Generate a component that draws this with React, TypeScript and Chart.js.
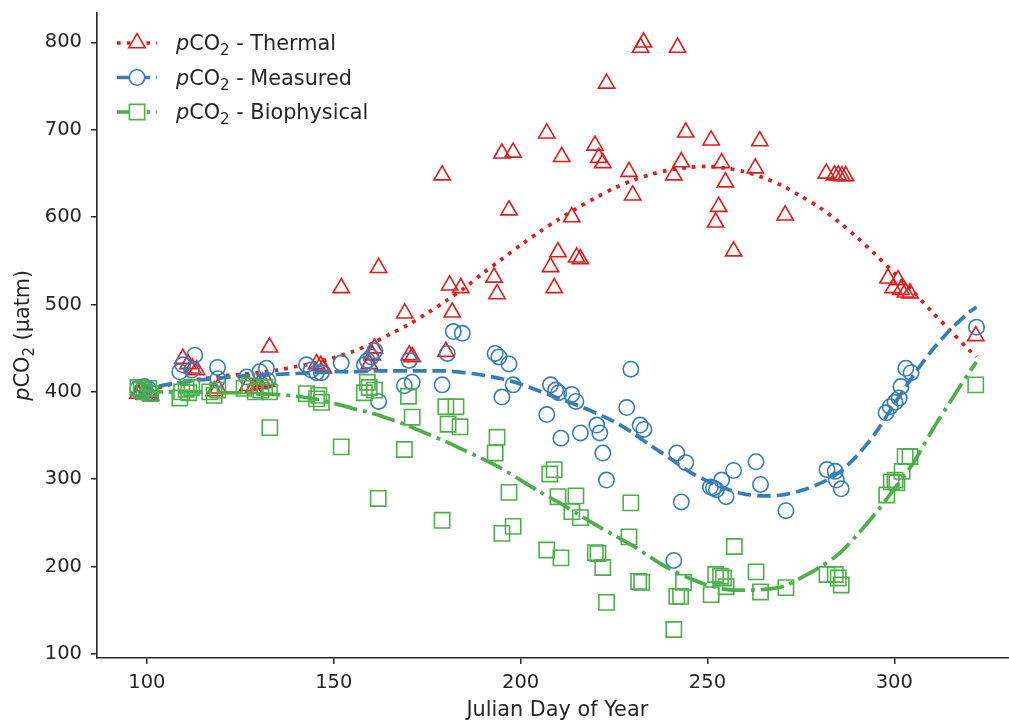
import React, { useEffect, useRef } from 'react';
import { Chart, registerables } from 'chart.js';

Chart.register(...registerables);

const FONT = "'DejaVu Sans', sans-serif";
const INK = '#262626';
const RED = '#e41a1c';
const BLUE = '#377eb8';
const GREEN = '#4daf4a';

const xTicks = [100, 150, 200, 250, 300];
const yTicks = [100, 200, 300, 400, 500, 600, 700, 800];

// Thermal pCO2 observations
const thermalDays = [
  97.6, 98.5, 99.3, 100.5, 101, 109.6, 111, 112.2, 113.3, 118, 119, 127, 128.5, 130, 131, 132, 132.8,
  145.4, 146.5, 147.2, 152, 159.5, 160.3, 160.9, 162, 169, 170.2, 171, 179, 180, 181, 181.7, 184,
  192.9, 193.7, 195, 196.9, 198, 207, 208, 209, 210, 211, 213.7, 215, 216, 219.9, 220.9, 222, 223,
  229, 230, 232.1, 232.9, 241, 242, 243, 244.2, 251, 252.2, 253, 253.8, 254.8, 257, 262.8, 264,
  270.8, 281.8, 284, 285, 286, 287, 298.3, 299.7, 301, 301.8, 303, 304.2, 321.8,
];
const thermalValues = [
  398, 401, 397, 399, 396, 438, 432, 427, 425, 401, 404, 407, 404, 409, 411, 412, 451,
  432, 430, 427, 519, 432, 442, 450, 542, 490, 442, 440, 648, 446, 522, 491, 519,
  531, 512, 673, 608, 674, 696, 543, 519, 560, 669, 600, 554, 552, 682, 668, 662, 753,
  652, 625, 794, 800, 648, 794, 663, 697, 688, 594, 612, 662, 640, 561, 656, 687,
  602, 650, 648, 648, 647, 647, 530, 519, 528, 517, 514, 513, 464,
];

// Measured pCO2 observations
const measuredDays = [
  97.6, 98.5, 99.3, 100.5, 101, 108.8, 109.6, 112, 112.8, 118.9, 119, 126.7, 130.2, 132, 132.3,
  142.7, 144, 145.4, 146.7, 152, 158.2, 159, 160, 161, 162, 168.9, 170.2, 171, 179, 180.4, 182, 184.4,
  193.2, 194.2, 195, 196.9, 198, 207, 208, 209.4, 210.2, 210.8, 213.7, 214.8, 216, 220.4, 221.2, 222, 223,
  228.4, 229.5, 232, 233, 241, 241.8, 243, 244.2, 250.8, 251.6, 252.4, 253.8, 255, 257, 263, 264.2, 271,
  282, 284.2, 284.5, 285.8, 297.8, 298.9, 300.2, 301.3, 301.8, 303.1, 304.5, 322,
];
const measuredValues = [
  404, 401, 406, 403, 399, 423, 431, 425, 442, 428, 415, 417, 423, 427, 413,
  431, 425, 422, 422, 433, 431, 436, 440, 447, 389, 407, 436, 411, 408, 444, 469, 467,
  444, 440, 394, 432, 408, 374, 408, 402, 399, 347, 397, 389, 353, 362, 353, 330, 299,
  382, 426, 362, 357, 207, 330, 274, 319, 291, 290, 288, 299, 280, 310, 320, 294, 264,
  311, 309, 299, 289, 376, 383, 388, 393, 406, 427, 422, 474,
];

// Biophysical pCO2 observations
const biophysicalDays = [
  97.6, 98.5, 99.3, 100.5, 101, 108.8, 109.3, 110.5, 111.2, 112, 116.8, 118, 119, 126, 127.5, 129,
  130.5, 131.5, 132.8, 132.9, 142.7, 145.4, 146, 146.7, 152, 158.2, 159, 159.5, 160.9, 161.9,
  168.9, 170, 171, 179, 180, 180.6, 182.7, 183.8, 193.2, 193.7, 195, 196.9, 198,
  207, 207.8, 209, 210, 210.8, 213.7, 214.8, 216, 220, 220.7, 222, 223, 229, 229.5, 231.6, 232.4,
  241, 241.8, 242.8, 243.6, 251, 252.2, 253.5, 254.3, 255, 257.2, 263, 264.2, 271,
  282, 284.2, 285, 285.8, 298, 299.2, 300.2, 300.7, 302.1, 302.9, 304.2, 321.8,
];
const biophysicalValues = [
  405, 402, 400, 404, 398, 393, 400, 403, 399, 405, 400, 396, 402, 404, 407, 400,
  402, 405, 400, 359, 398, 392, 396, 388, 337, 399, 411, 405, 402, 278,
  334, 395, 371, 253, 383, 363, 383, 360, 330, 348, 238, 285, 246,
  219, 306, 311, 280, 210, 263, 281, 256, 216, 215, 199, 159, 234, 273, 183, 182,
  128, 166, 166, 182, 168, 191, 189, 187, 177, 223, 194, 171, 176,
  191, 191, 187, 179, 282, 297, 299, 296, 309, 326, 326, 408,
];

// Fitted seasonal curves
const fitDays = [
  98, 100, 105, 110, 115, 120, 125, 130, 135, 140, 145, 150, 155, 160, 165, 170, 175, 180, 185, 190,
  195, 200, 205, 210, 215, 220, 225, 230, 235, 240, 245, 250, 255, 260, 265, 270, 275, 280, 285, 290,
  295, 300, 305, 310, 315, 320, 322,
];
const thermalFit = [
  399, 401, 407, 412, 415, 418, 420, 422, 425, 429, 433, 439, 446, 455, 466, 477, 490, 504, 519, 536,
  552, 568, 583, 597, 610, 622, 633, 642, 649, 654, 657, 658, 656, 652, 645, 636, 624, 611, 595, 577,
  557, 536, 515, 492, 470, 448, 440,
];
const measuredFit = [
  403, 404, 408, 411, 414, 416, 418, 419, 420, 421, 422, 423, 423, 424, 424, 424, 424, 424, 422, 419,
  415, 409, 401, 393, 385, 376, 366, 353, 338, 324, 309, 298, 289, 283, 281, 282, 287, 295, 307, 327,
  353, 386, 418, 447, 471, 491, 497,
];
const biophysicalFit = [
  403, 401, 400, 400, 400, 399, 399, 398, 397, 395, 392, 387, 381, 376, 369, 361, 352, 343, 333, 323,
  312, 299, 286, 274, 261, 248, 236, 224, 210, 197, 187, 179, 174, 173, 174, 177, 187, 199, 214, 236,
  261, 289, 318, 355, 389, 422, 434,
];

const LW = 3.7;
const DOTTED = [LW, 1.65 * LW];
const DASHED = [3.7 * LW, 1.6 * LW];
const DASHDOT = [6.4 * LW, 1.6 * LW, LW, 1.6 * LW];

const TRI_R = 9.4;
const CIRC_R = 7.7;
const RECT_R = 10.8;

const TEXT_SIZE = 20.8;
const TICK_SIZE = 19.5;

const legendEntries = [
  { label: ' - Thermal', color: RED, dash: DOTTED, marker: 'triangle' },
  { label: ' - Measured', color: BLUE, dash: DASHED, marker: 'circle' },
  { label: ' - Biophysical', color: GREEN, dash: DASHDOT, marker: 'rect' },
];

const toPoints = (days: number[], vals: number[]) => days.map((d, i) => ({ x: d, y: vals[i] }));

function drawMarker(ctx: CanvasRenderingContext2D, kind: string, x: number, y: number, color: string) {
  ctx.save();
  ctx.strokeStyle = color;
  ctx.lineWidth = 1.6;
  ctx.setLineDash([]);
  ctx.beginPath();
  if (kind === 'triangle') {
    const c = Math.cos(Math.PI / 6) * TRI_R;
    ctx.moveTo(x, y - TRI_R);
    ctx.lineTo(x - c, y + TRI_R / 2);
    ctx.lineTo(x + c, y + TRI_R / 2);
    ctx.closePath();
  } else if (kind === 'circle') {
    ctx.arc(x, y, CIRC_R, 0, Math.PI * 2);
  } else {
    const s = RECT_R * Math.SQRT1_2;
    ctx.rect(x - s, y - s, 2 * s, 2 * s);
  }
  ctx.fillStyle = '#ffffff';
  ctx.fill();
  ctx.stroke();
  ctx.restore();
}

// "pCO2" with italic p and subscript 2, followed by plain text
function drawPco2(ctx: CanvasRenderingContext2D, x: number, y: number, tail: string, size: number, align: 'left' | 'center') {
  const parts = [
    { t: 'p', font: `italic ${size}px ${FONT}`, dy: 0 },
    { t: 'CO', font: `${size}px ${FONT}`, dy: 0 },
    { t: '2', font: `${Math.round(size * 0.7)}px ${FONT}`, dy: size * 0.24 },
    { t: tail, font: `${size}px ${FONT}`, dy: 0 },
  ];
  ctx.save();
  ctx.textAlign = 'left';
  ctx.textBaseline = 'alphabetic';
  ctx.fillStyle = INK;
  let total = 0;
  const widths = parts.map((p) => {
    ctx.font = p.font;
    const w = ctx.measureText(p.t).width;
    total += w;
    return w;
  });
  let cx = align === 'center' ? x - total / 2 : x;
  const base = y + size * 0.36;
  parts.forEach((p, i) => {
    ctx.font = p.font;
    ctx.fillText(p.t, cx, base + p.dy);
    cx += widths[i];
  });
  ctx.restore();
}

const annotations = {
  id: 'annotations',
  afterDraw(chart: any) {
    const ctx: CanvasRenderingContext2D = chart.ctx;
    const area = chart.chartArea;
    ctx.save();
    // legend
    legendEntries.forEach((e, i) => {
      const y = 43 + i * 34.5;
      ctx.save();
      ctx.strokeStyle = e.color;
      ctx.lineWidth = LW;
      ctx.lineCap = 'butt';
      ctx.setLineDash(e.dash);
      ctx.beginPath();
      ctx.moveTo(117, y);
      ctx.lineTo(157, y);
      ctx.stroke();
      ctx.restore();
      drawMarker(ctx, e.marker, 137, y, e.color);
      drawPco2(ctx, 176, y, e.label, TEXT_SIZE, 'left');
    });
    // x axis title
    ctx.font = `${TEXT_SIZE}px ${FONT}`;
    ctx.fillStyle = INK;
    ctx.textAlign = 'center';
    ctx.textBaseline = 'middle';
    ctx.fillText('Julian Day of Year', (area.left + area.right) / 2, 711);
    // y axis title
    ctx.translate(22, (area.top + area.bottom) / 2);
    ctx.rotate(-Math.PI / 2);
    drawPco2(ctx, 0, 0, ' (\u00b5atm)', TEXT_SIZE, 'center');
    ctx.restore();
  },
};

export default function App() {
  const ref = useRef<HTMLCanvasElement | null>(null);

  useEffect(() => {
    if (!ref.current) return;
    const scatterBase = {
      showLine: false,
      backgroundColor: 'rgba(0,0,0,0)',
      pointBackgroundColor: 'rgba(0,0,0,0)',
      pointBorderWidth: 1.6,
      pointHoverRadius: 0,
    };
    const fitBase = {
      showLine: true,
      pointRadius: 0,
      pointHoverRadius: 0,
      borderWidth: LW,
      tension: 0.3,
      fill: false,
    };
    const chart = new Chart(ref.current, {
      type: 'scatter',
      data: {
        datasets: [
          { ...scatterBase, label: 'thermal', data: toPoints(thermalDays, thermalValues), pointStyle: 'triangle', pointRadius: TRI_R, borderColor: RED, pointBorderColor: RED, order: 6 },
          { ...fitBase, label: 'thermal fit', data: toPoints(fitDays, thermalFit), borderColor: RED, borderDash: DOTTED, order: 5 },
          { ...scatterBase, label: 'measured', data: toPoints(measuredDays, measuredValues), pointStyle: 'circle', pointRadius: CIRC_R, borderColor: BLUE, pointBorderColor: BLUE, order: 4 },
          { ...fitBase, label: 'measured fit', data: toPoints(fitDays, measuredFit), borderColor: BLUE, borderDash: DASHED, order: 3 },
          { ...scatterBase, label: 'biophysical', data: toPoints(biophysicalDays, biophysicalValues), pointStyle: 'rect', pointRadius: RECT_R, borderColor: GREEN, pointBorderColor: GREEN, order: 2 },
          { ...fitBase, label: 'biophysical fit', data: toPoints(fitDays, biophysicalFit), borderColor: GREEN, borderDash: DASHDOT, order: 1 },
        ] as any,
      },
      options: {
        responsive: false,
        animation: false,
        events: [],
        layout: { padding: { left: 0, right: 10, top: 12, bottom: 0 } },
        plugins: { legend: { display: false }, tooltip: { enabled: false } },
        scales: {
          x: {
            type: 'linear',
            min: 86.65,
            max: 333.0,
            afterBuildTicks: (s: any) => { s.ticks = xTicks.map((v) => ({ value: v })); },
            afterFit: (s: any) => { s.height = 65; s.paddingLeft = 0; s.paddingRight = 0; },
            grid: { display: true, drawOnChartArea: false, drawTicks: true, tickLength: 6, color: INK, lineWidth: 1.5 },
            border: { display: true, color: INK, width: 1.6 },
            ticks: { font: { family: FONT, size: TICK_SIZE }, color: INK, padding: 7, maxRotation: 0, autoSkip: false },
          },
          y: {
            type: 'linear',
            min: 95.4,
            max: 834.3,
            afterBuildTicks: (s: any) => { s.ticks = yTicks.map((v) => ({ value: v })); },
            afterFit: (s: any) => { s.width = 97; s.paddingTop = 0; s.paddingBottom = 0; },
            grid: { display: true, drawOnChartArea: false, drawTicks: true, tickLength: 6, color: INK, lineWidth: 1.5 },
            border: { display: true, color: INK, width: 1.6 },
            ticks: { font: { family: FONT, size: TICK_SIZE }, color: INK, padding: 9, autoSkip: false },
          },
        },
      } as any,
      plugins: [annotations],
    });
    return () => chart.destroy();
  }, []);

  return (
    <div style={{ position: 'fixed', left: 0, top: 0, width: 1009, height: 723, overflow: 'hidden', background: '#fff' }}>
      <canvas ref={ref} width={1030} height={723} style={{ width: 1030, height: 723, display: 'block' }} />
    </div>
  );
}
